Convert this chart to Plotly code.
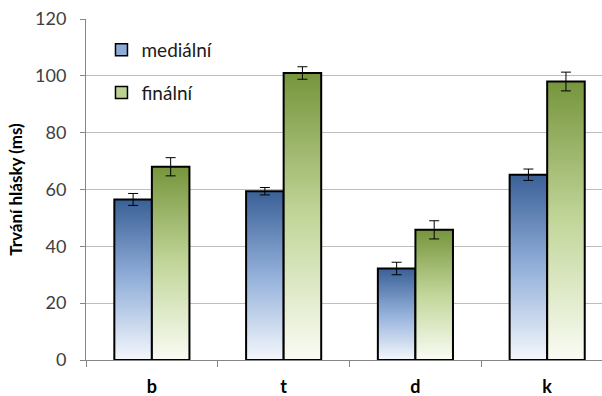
import plotly.graph_objects as go

# Consonant categories and mean durations (ms) with their error margins
categories = ["b", "t", "d", "k"]
medialni = [56.5, 59.4, 32.2, 65.2]
medialni_err = [2.1, 1.3, 2.2, 2.0]
finalni = [68.0, 101.0, 45.8, 98.0]
finalni_err = [3.2, 2.2, 3.2, 3.3]
y_ticks = [0, 20, 40, 60, 80, 100, 120]

FONT = "Lato, 'Open Sans', sans-serif"
BAR_W = 0.285  # width of one bar in category units

series = [
    dict(name="mediální", values=medialni, err=medialni_err, side=-1,
         scale=[[0, "#f4f7fc"], [0.5, "#93b0da"], [1, "#3a6097"]],
         swatch="#8eaad6"),
    dict(name="finální", values=finalni, err=finalni_err, side=1,
         scale=[[0, "#fafcf4"], [0.5, "#c2d69a"], [1, "#76953c"]],
         swatch="#bcd28e"),
]

fig = go.Figure()

# Bars drawn as filled outlines so each one carries its own vertical gradient
for s in series:
    for i, v in enumerate(s["values"]):
        x0 = i if s["side"] > 0 else i - BAR_W
        x1 = x0 + BAR_W
        fig.add_trace(go.Scatter(
            x=[x0, x0, x1, x1, x0],
            y=[0, v, v, 0, 0],
            mode="lines",
            fill="toself",
            fillgradient=dict(type="vertical", colorscale=s["scale"]),
            line=dict(color="black", width=2),
            showlegend=False,
            hoverinfo="skip",
        ))

# Error bars centred on each bar
for s in series:
    xs = [i + s["side"] * BAR_W / 2 for i in range(len(categories))]
    fig.add_trace(go.Scatter(
        x=xs, y=s["values"], mode="markers",
        marker=dict(size=1, color="rgba(0,0,0,0)"),
        error_y=dict(type="data", array=s["err"], visible=True,
                     color="black", thickness=1, width=5),
        showlegend=False, hoverinfo="skip",
    ))

# Legend entries
for k, s in enumerate(series):
    fig.add_trace(go.Bar(
        x=[None], y=[None], name=s["name"],
        marker=dict(color=s["swatch"], line=dict(color="black", width=1.5)),
        legendgroup=f"g{k}",
    ))

fig.update_layout(
    width=602, height=396,
    margin=dict(l=86, r=0, t=19, b=36),
    paper_bgcolor="white", plot_bgcolor="white",
    font=dict(family=FONT, size=18, color="#404040"),
    showlegend=True,
    legend=dict(
        x=0.03, y=0.965, xanchor="left", yanchor="top",
        bgcolor="rgba(0,0,0,0)", tracegroupgap=15,
        font=dict(family=FONT, size=19, color="#1a1a1a"),
    ),
    xaxis=dict(
        range=[-0.5, 3.416], automargin=False,
        tickvals=list(range(len(categories))),
        ticktext=[f"<b>{c}</b>" for c in categories],
        ticks="", showgrid=False, zeroline=False,
        showline=True, linecolor="#868686", linewidth=1,
        tickfont=dict(family=FONT, size=18, color="black"),
        ticklabelstandoff=10,
        minor=dict(tickvals=[-0.5, 0.5, 1.5, 2.5, 3.5], ticks="outside",
                   ticklen=6, tickcolor="#868686", showgrid=False),
    ),
    yaxis=dict(
        range=[0, 120], tickvals=y_ticks, automargin=False,
        showgrid=True, gridcolor="#bdbdbd", gridwidth=1,
        zeroline=False,
        showline=True, linecolor="#868686", linewidth=1,
        ticks="outside", ticklen=5, tickcolor="#868686",
        ticklabelstandoff=10,
        title=dict(text="<b>Trvání hlásky (ms)</b>", standoff=8,
                   font=dict(family=FONT, size=17, color="black")),
    ),
)

fig.write_html("out.html")
